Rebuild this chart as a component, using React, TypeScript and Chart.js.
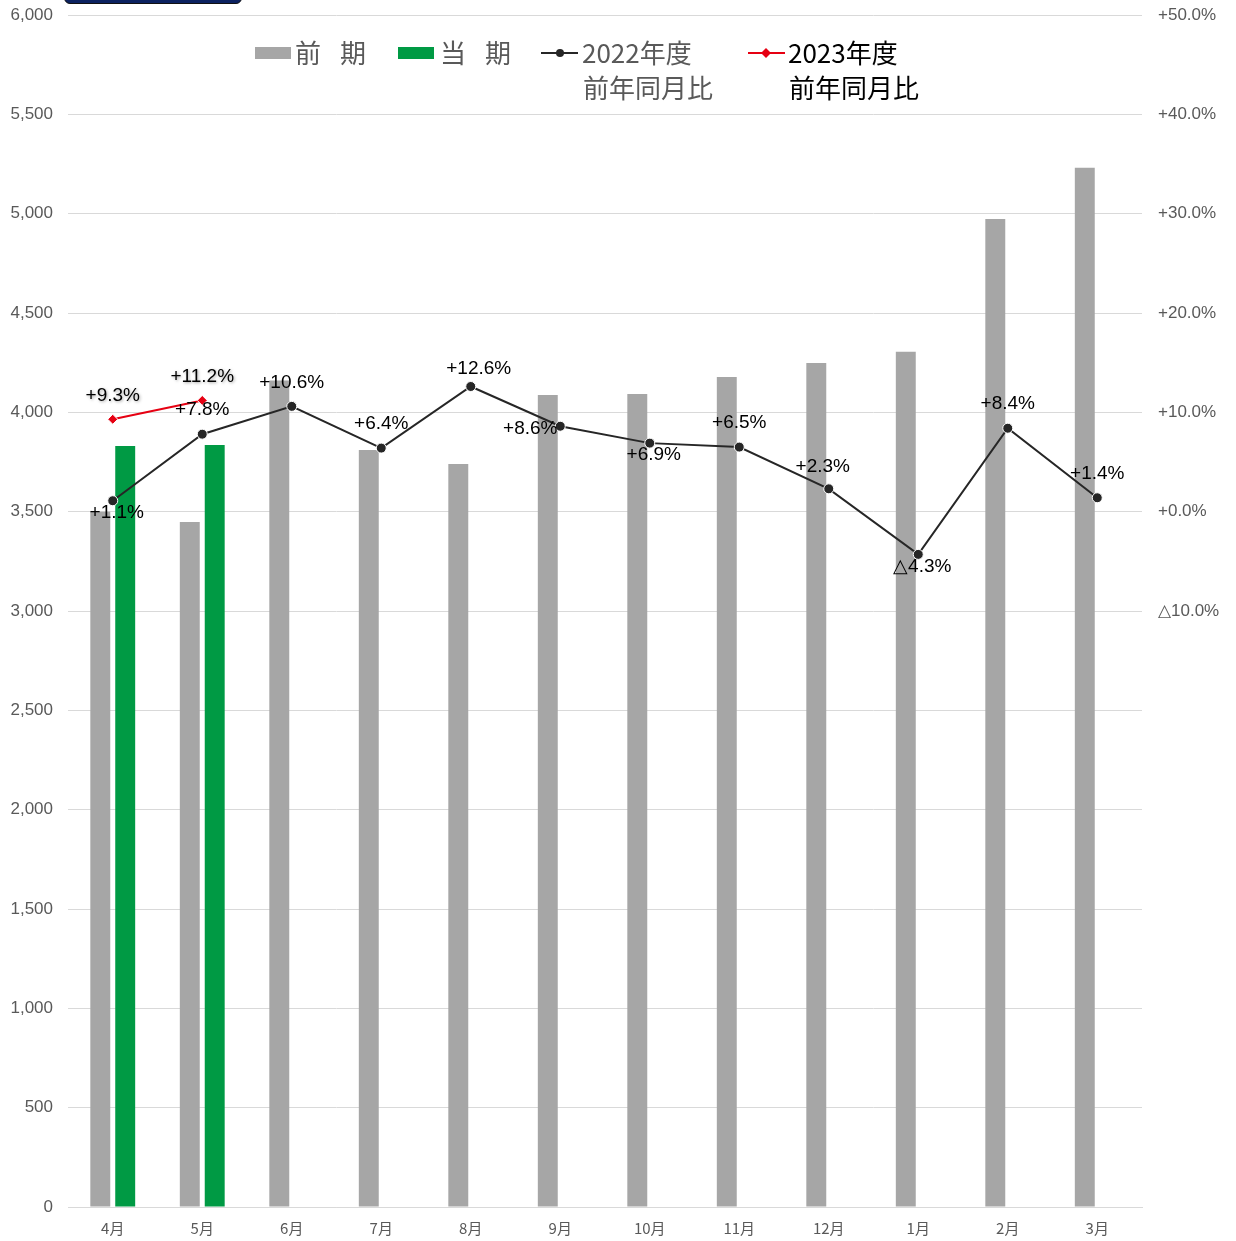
import React, { useEffect, useRef } from "react";
import { Chart, registerables } from "chart.js";

Chart.register(...registerables);

const months = ["4月", "5月", "6月", "7月", "8月", "9月", "10月", "11月", "12月", "1月", "2月", "3月"];
const prevPeriod = [3500, 3448, 4160, 3810, 3740, 4087, 4092, 4178, 4248, 4305, 4973, 5231];
const currPeriod = [3830, 3835, null, null, null, null, null, null, null, null, null, null];
const yoy2022 = [1.1, 7.8, 10.6, 6.4, 12.6, 8.6, 6.9, 6.5, 2.3, -4.3, 8.4, 1.4];
const yoy2023 = [9.3, 11.2, null, null, null, null, null, null, null, null, null, null];
const yoy2022Placement = ["bottom", "top", "top", "top", "topright", "left", "bottom", "top", "topleft", "bottom", "top", "top"];
const yoy2023Placement = ["top", "top"];

const leftMin = 0;
const leftMax = 6000;
const leftStep = 500;
const rightMin = -70;
const rightMax = 50;
const rightStep = 10;
const rightLowestLabel = -10;

const fmtPct = (v: number) => (v >= 0 ? `+${v.toFixed(1)}%` : `△${Math.abs(v).toFixed(1)}%`);

const GREY = "#a6a6a6";
const GREEN = "#009a44";
const LINE_BLACK = "#262626";
const RED = "#e60012";
const AXIS_TEXT = "#595959";

const dataLabelPlugin = {
  id: "dataLabels",
  afterDatasetsDraw(chart: any) {
    const ctx = chart.ctx;
    const sets = [
      { idx: 2, values: yoy2022, place: yoy2022Placement, shadow: false },
      { idx: 3, values: yoy2023, place: yoy2023Placement, shadow: true },
    ];
    ctx.save();
    ctx.font = '19px "Liberation Sans", Arial, sans-serif';
    ctx.fillStyle = "#000";
    ctx.textAlign = "center";
    ctx.textBaseline = "middle";
    sets.forEach((s) => {
      const meta = chart.getDatasetMeta(s.idx);
      s.values.forEach((v, i) => {
        if (v === null || v === undefined) return;
        const pt = meta.data[i];
        if (!pt) return;
        let x = pt.x;
        let y = pt.y;
        const p = s.place[i] || "top";
        if (p === "top") y -= 24;
        else if (p === "topright") {
          y -= 18;
          x += 8;
        } else if (p === "topleft") {
          y -= 22;
          x -= 6;
        } else if (p === "bottom") {
          y += 12;
          x += 4;
        } else if (p === "left") {
          x -= 30;
          y += 3;
        }
        if (s.shadow) {
          ctx.shadowColor = "rgba(0,0,0,0.35)";
          ctx.shadowBlur = 3;
          ctx.shadowOffsetX = 1;
          ctx.shadowOffsetY = 1;
        } else {
          ctx.shadowColor = "transparent";
          ctx.shadowBlur = 0;
          ctx.shadowOffsetX = 0;
          ctx.shadowOffsetY = 0;
        }
        ctx.fillText(fmtPct(v), x, y);
      });
    });
    ctx.restore();
  },
};

const legendPlugin = {
  id: "customLegend",
  afterDraw(chart: any) {
    const ctx = chart.ctx;
    const font = '26px "Noto Sans CJK JP", sans-serif';
    const row1 = 53;
    const row2 = 88;
    ctx.save();
    ctx.textBaseline = "middle";
    ctx.textAlign = "left";
    ctx.font = font;

    ctx.fillStyle = GREY;
    ctx.fillRect(255, 47, 36, 12);
    ctx.fillStyle = AXIS_TEXT;
    ctx.fillText("前", 295, row1);
    ctx.fillText("期", 340, row1);

    ctx.fillStyle = GREEN;
    ctx.fillRect(398, 47, 36, 12);
    ctx.fillStyle = AXIS_TEXT;
    ctx.fillText("当", 440, row1);
    ctx.fillText("期", 485, row1);

    ctx.strokeStyle = LINE_BLACK;
    ctx.lineWidth = 2;
    ctx.beginPath();
    ctx.moveTo(541, row1);
    ctx.lineTo(578, row1);
    ctx.stroke();
    ctx.fillStyle = LINE_BLACK;
    ctx.beginPath();
    ctx.arc(560, row1, 4, 0, Math.PI * 2);
    ctx.fill();
    ctx.fillStyle = AXIS_TEXT;
    ctx.fillText("2022年度", 582, row1);
    ctx.fillText("前年同月比", 583, row2);

    ctx.strokeStyle = RED;
    ctx.beginPath();
    ctx.moveTo(748, row1);
    ctx.lineTo(785, row1);
    ctx.stroke();
    ctx.fillStyle = RED;
    ctx.beginPath();
    ctx.moveTo(766, row1 - 5);
    ctx.lineTo(771, row1);
    ctx.lineTo(766, row1 + 5);
    ctx.lineTo(761, row1);
    ctx.closePath();
    ctx.fill();
    ctx.fillStyle = "#000";
    ctx.fillText("2023年度", 788, row1);
    ctx.fillText("前年同月比", 789, row2);
    ctx.restore();
  },
};

export default function App() {
  const canvasRef = useRef<HTMLCanvasElement | null>(null);

  useEffect(() => {
    document.body.style.overflow = "hidden";
    const canvas = canvasRef.current;
    if (!canvas) return;
    const chart = new Chart(canvas, {
      type: "bar",
      data: {
        labels: months,
        datasets: [
          {
            type: "bar",
            label: "前期",
            data: prevPeriod,
            backgroundColor: GREY,
            yAxisID: "y",
            order: 1,
            categoryPercentage: 0.557,
            barPercentage: 0.8,
          },
          {
            type: "bar",
            label: "当期",
            data: currPeriod,
            backgroundColor: GREEN,
            yAxisID: "y",
            order: 2,
            categoryPercentage: 0.557,
            barPercentage: 0.8,
          },
          {
            type: "line",
            label: "2022年度 前年同月比",
            data: yoy2022,
            borderColor: LINE_BLACK,
            borderWidth: 2,
            pointRadius: 5,
            pointBackgroundColor: LINE_BLACK,
            pointBorderColor: "#ffffff",
            pointBorderWidth: 1,
            yAxisID: "y1",
            order: 0,
            tension: 0,
          },
          {
            type: "line",
            label: "2023年度 前年同月比",
            data: yoy2023,
            borderColor: RED,
            borderWidth: 2,
            pointStyle: "rectRot",
            pointRadius: 5,
            pointBackgroundColor: RED,
            pointBorderColor: "#ffffff",
            pointBorderWidth: 1,
            yAxisID: "y1",
            order: 0,
            tension: 0,
          },
        ],
      } as any,
      options: {
        animation: false,
        responsive: false,
        maintainAspectRatio: false,
        layout: { padding: { top: 15, left: 0, right: 0, bottom: 0 } },
        plugins: {
          legend: { display: false },
          tooltip: { enabled: false },
          title: { display: false },
        },
        scales: {
          x: {
            grid: { display: false, drawTicks: false },
            border: { display: true, color: "#d9d9d9", width: 1 },
            ticks: {
              color: AXIS_TEXT,
              font: { family: '"Noto Sans CJK JP", sans-serif', size: 15 },
              padding: 12,
              maxRotation: 0,
            },
            afterFit: (s: any) => {
              s.height = 34;
              s.paddingLeft = 0;
              s.paddingRight = 0;
            },
          },
          y: {
            position: "left",
            min: leftMin,
            max: leftMax,
            ticks: {
              stepSize: leftStep,
              color: AXIS_TEXT,
              font: { family: '"Liberation Sans", Arial, sans-serif', size: 17 },
              padding: 15,
              callback: (v: any) => Number(v).toLocaleString("en-US"),
            },
            grid: { color: "#d9d9d9", drawTicks: false, lineWidth: 1 },
            border: { display: false },
            afterFit: (s: any) => {
              s.width = 68;
              s.paddingTop = 0;
              s.paddingBottom = 0;
            },
          },
          y1: {
            position: "right",
            min: rightMin,
            max: rightMax,
            ticks: {
              stepSize: rightStep,
              color: AXIS_TEXT,
              font: { family: '"Liberation Sans", Arial, sans-serif', size: 17 },
              padding: 16,
              callback: (v: any) => {
                const n = Number(v);
                if (n < rightLowestLabel - 0.001) return "";
                return fmtPct(n);
              },
            },
            grid: { display: false, drawTicks: false },
            border: { display: false },
            afterFit: (s: any) => {
              s.width = 94;
              s.paddingTop = 0;
              s.paddingBottom = 0;
            },
          },
        },
      } as any,
      plugins: [dataLabelPlugin, legendPlugin],
    });
    return () => chart.destroy();
  }, []);

  return (
    <div style={{ position: "absolute", left: 0, top: 0, width: 1236, height: 1241, overflow: "hidden", background: "#fff" }}>
      <canvas ref={canvasRef} width={1236} height={1241} style={{ width: 1236, height: 1241, display: "block" }} />
      <div
        style={{
          position: "absolute",
          left: 64,
          top: -30,
          width: 178,
          height: 34,
          background: "#0b2160",
          border: "1px solid #111",
          borderRadius: 6,
          boxSizing: "border-box",
        }}
      />
    </div>
  );
}
